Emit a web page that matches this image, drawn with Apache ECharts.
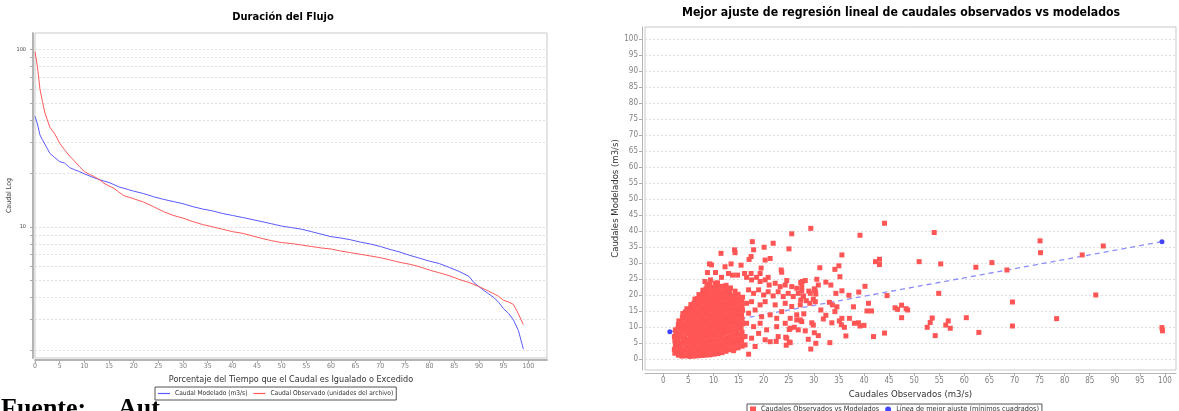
<!DOCTYPE html>
<html>
<head>
<meta charset="utf-8">
<script src="https://cdn.jsdelivr.net/npm/echarts@6/dist/echarts.min.js"></script>
<style>
html,body{margin:0;padding:0;background:#fff;}
#c{width:1179px;height:411px;}
</style>
</head>
<body>
<div id="c"></div>
<script>
// ---------- Left chart: flow duration curve ----------
const durPct = [0,0.5,1,1.5,2,3,4,5,6,7,8,9,10,11,12,13,14,15,16,17,18,19,20,22,24,26,28,30,32,34,36,38,40,42,44,46,48,50,52,54,56,58,60,62,64,66,68,70,72,74,76,78,80,82,84,86,88,89,90,91,92,93,94,95,96,97,98,99];
const durModelado = [42,38,33,31,29.3,26,24.6,23.3,22.9,21.6,21.0,20.5,19.9,19.4,18.9,18.5,18.1,17.8,17.3,16.8,16.5,16.2,15.9,15.4,14.8,14.3,13.9,13.5,13.0,12.6,12.3,11.9,11.6,11.3,11.0,10.7,10.4,10.1,9.9,9.7,9.4,9.1,8.8,8.65,8.45,8.2,8.0,7.75,7.45,7.2,6.9,6.65,6.4,6.2,5.9,5.6,5.25,4.84,4.6,4.38,4.18,4.0,3.75,3.45,3.25,2.98,2.6,2.05];
const durObservado = [97,80,60,51,44,36.5,33.5,29.6,27.2,25.1,23.5,21.9,20.5,19.8,19.2,18.5,17.6,17.0,16.5,15.7,15.0,14.7,14.4,13.8,13.0,12.2,11.6,11.2,10.7,10.3,10.0,9.7,9.4,9.2,8.9,8.6,8.35,8.15,8.05,7.9,7.75,7.6,7.5,7.3,7.15,7.0,6.85,6.7,6.5,6.3,6.15,5.95,5.7,5.5,5.3,5.05,4.85,4.73,4.6,4.47,4.33,4.2,4.05,3.85,3.77,3.65,3.23,2.81];
const durXTicks = [0,5,10,15,20,25,30,35,40,45,50,55,60,65,70,75,80,85,90,95,100];
const durYTicks = [2,3,4,5,6,7,8,9,10,20,30,40,50,60,70,80,90,100];
const durYLabels = [10,100];

// ---------- Right chart: observed vs modelled scatter ----------
const scatterPairs = [
[2.3,1.9],[2.2,3.1],[2.4,4.4],[2.3,5.8],[2.2,7.1],[2.5,8.4],[2.4,9.2],
[3.0,1.3],[2.9,2.6],[3.1,4.0],[2.9,5.3],[3.0,6.7],[3.1,8.0],[2.9,9.5],[3.0,10.8],[3.1,12.0],
[3.7,1.0],[3.8,2.3],[3.6,3.6],[3.7,5.0],[3.9,6.4],[3.6,7.7],[3.8,9.0],[3.7,10.4],[3.6,11.8],[3.8,13.1],[3.9,14.3],
[4.5,1.1],[4.4,2.5],[4.6,3.9],[4.5,5.3],[4.3,6.6],[4.6,8.0],[4.5,9.4],[4.4,10.8],[4.6,12.1],[4.5,13.5],[4.4,14.8],[4.7,15.8],
[5.3,0.9],[5.2,2.2],[5.4,3.6],[5.3,5.0],[5.1,6.3],[5.4,7.7],[5.3,9.1],[5.2,10.5],[5.4,11.9],[5.3,13.2],[5.2,14.6],[5.4,15.9],[5.5,17.1],
[6.1,1.0],[6.0,2.4],[6.2,3.8],[6.1,5.1],[5.9,6.5],[6.2,7.9],[6.1,9.3],[6.0,10.6],[6.2,12.0],[6.1,13.4],[5.9,14.8],[6.2,16.1],[6.1,17.5],[6.3,18.8],
[6.9,1.1],[6.8,2.5],[7.0,3.9],[6.9,5.3],[6.7,6.6],[7.0,8.0],[6.9,9.4],[6.8,10.8],[7.0,12.1],[6.9,13.5],[6.8,14.9],[7.0,16.3],[6.9,17.6],[6.8,19.0],[7.1,20.2],
[7.7,1.2],[7.6,2.6],[7.8,4.0],[7.7,5.4],[7.5,6.8],[7.8,8.1],[7.7,9.5],[7.6,10.9],[7.8,12.3],[7.7,13.6],[7.6,15.0],[7.8,16.4],[7.7,17.8],[7.6,19.1],[7.8,20.5],[7.9,21.6],
[8.5,1.3],[8.4,2.7],[8.6,4.1],[8.5,5.5],[8.3,6.9],[8.6,8.3],[8.5,9.6],[8.4,11.0],[8.6,12.4],[8.5,13.8],[8.4,15.2],[8.6,16.5],[8.5,17.9],[8.4,19.3],[8.6,20.7],[8.5,22.0],[8.7,23.0],
[9.3,1.4],[9.2,2.8],[9.4,4.2],[9.3,5.6],[9.1,7.0],[9.4,8.4],[9.3,9.8],[9.2,11.1],[9.4,12.5],[9.3,13.9],[9.2,15.3],[9.4,16.7],[9.3,18.0],[9.2,19.4],[9.4,20.8],[9.3,22.2],[9.2,23.5],
[10.1,1.6],[10.0,3.0],[10.2,4.4],[10.1,5.8],[9.9,7.2],[10.2,8.6],[10.1,10.0],[10.0,11.3],[10.2,12.7],[10.1,14.1],[10.0,15.5],[10.2,16.9],[10.1,18.2],[10.0,19.6],[10.2,21.0],[10.1,22.4],[10.3,23.8],
[10.9,1.8],[10.8,3.2],[11.0,4.6],[10.9,6.0],[10.7,7.4],[11.0,8.8],[10.9,10.2],[10.8,11.5],[11.0,12.9],[10.9,14.3],[10.8,15.7],[11.0,17.1],[10.9,18.4],[10.8,19.8],[11.0,21.2],[10.9,22.6],[10.8,23.9],
[11.7,2.1],[11.6,3.5],[11.8,4.9],[11.7,6.3],[11.5,7.6],[11.8,9.0],[11.7,10.4],[11.6,11.8],[11.8,13.2],[11.7,14.5],[11.6,15.9],[11.8,17.3],[11.7,18.7],[11.6,20.0],[11.8,21.4],[11.7,22.8],
[12.5,2.5],[12.4,3.9],[12.6,5.3],[12.5,6.7],[12.3,8.1],[12.6,9.4],[12.5,10.8],[12.4,12.2],[12.6,13.6],[12.5,15.0],[12.4,16.3],[12.6,17.7],[12.5,19.1],[12.4,20.5],[12.6,21.8],[12.5,23.1],
[13.3,3.0],[13.2,4.4],[13.4,5.8],[13.3,7.1],[13.1,8.5],[13.4,9.9],[13.3,11.3],[13.2,12.7],[13.4,14.0],[13.3,15.4],[13.2,16.8],[13.4,18.2],[13.3,19.6],[13.2,20.9],[13.4,22.3],
[14.1,3.3],[14.0,4.7],[14.2,6.1],[14.1,7.5],[13.9,8.9],[14.2,10.3],[14.1,11.6],[14.0,13.0],[14.2,14.4],[14.1,15.8],[14.0,17.2],[14.2,18.6],[14.1,19.9],[14.3,21.3],
[14.9,3.6],[14.8,5.0],[15.0,6.4],[14.9,7.8],[14.7,9.2],[15.0,10.6],[14.9,12.0],[14.8,13.4],[15.0,14.7],[14.9,16.1],[14.8,17.5],[15.0,18.9],[14.9,20.3],
[15.7,4.1],[15.6,5.6],[15.8,7.0],[15.7,8.4],[15.5,9.8],[15.8,11.1],[15.7,12.5],[15.6,13.9],[15.8,15.3],[15.7,16.7],[15.6,18.1],[15.8,19.4],
[16.6,25.6],[17.6,24.8],[18.6,25.6],[19.3,24.3],[20.3,24.8],[21.1,23.2],[22.3,23.75],[23.3,22.7],[24.3,23.2],[25.6,22.7],[26.6,22.2],[27.6,22.7],
[17.0,21.7],[18.0,20.6],[19.0,21.7],[20.0,20.1],[20.9,21.1],[21.9,19.8],[22.9,21.1],[23.9,19.6],[24.9,20.6],[25.9,19.6],[26.9,20.6],[27.9,19.6],
[16.6,17.5],[17.6,18.0],[19.3,17.0],[20.3,18.0],[22.3,17.0],[24.3,17.5],[25.6,16.5],[27.3,17.0],
[17.0,14.4],[18.3,15.4],[19.6,13.3],[21.3,13.9],[22.6,12.8],[23.6,14.9],[25.3,12.8],[26.6,13.9],[27.6,11.8],
[16.6,11.25],[18.0,10.2],[19.3,11.25],[20.6,9.2],[22.6,10.2],[24.3,11.25],[25.3,9.7],[26.9,9.2],
[16.3,7.1],[17.6,6.6],[19.0,8.1],[20.3,6.1],[21.3,5.5],[22.9,7.1],[24.6,6.6],[25.3,5.2],
[16.3,4.5],[18.3,4.0],[14.0,2.7],[17.0,1.6],[8.65,2.1],
[22.5,5.6],[24.5,4.4],[25.1,5.4],[24.4,6.9],[25.1,9.3],[26.1,10.0],[26.6,12.3],
[25.6,39.2],[17.75,36.75],[21.9,36.25],[25.05,34.5],[14.2,34.2],[14.3,33.3],[11.5,33.1],[18.0,34.2],[20.1,35.0],[17.5,32.1],[17.1,31.2],[21.3,31.5],[20.3,31.0],
[9.2,29.8],[9.6,29.5],[12.3,28.9],[13.5,29.8],[15.5,29.4],[19.5,28.5],[23.5,27.9],[23.6,27.2],[8.8,27.1],[10.4,27.1],[13.0,26.8],[13.8,26.3],[14.8,26.3],
[16.2,26.8],[17.5,26.8],[19.3,26.8],[20.9,25.6],[24.6,24.6],[27.7,24.3],[8.3,24.3],[9.4,24.8],[11.6,25.6],
[29.4,40.9],[44.1,42.5],[39.2,38.75],[54.0,39.6],[35.6,32.6],[42.3,30.5],[43.1,31.25],[43.1,29.6],[51.0,30.5],[55.3,29.8],[62.3,28.75],[65.5,30.2],
[31.2,28.6],[34.2,28.1],[35.0,29.2],[35.2,25.8],[30.6,25.0],[32.4,24.1],[33.4,23.2],[28.3,24.6],[27.4,24.0],[30.9,23.2],[30.1,22.0],[30.3,21.3],
[29.0,21.3],[27.6,21.4],[29.3,20.6],[27.9,19.8],[30.4,20.4],[35.6,21.4],[34.4,20.6],[40.2,22.8],[38.96,21.0],[37.0,20.0],[44.6,19.9],[54.9,20.6],
[29.9,18.8],[30.3,18.0],[28.5,18.3],[27.4,18.5],[29.2,17.5],[33.1,17.8],[33.7,17.0],[34.6,16.4],[34.2,14.9],[31.4,15.4],[37.9,16.4],[40.9,17.5],
[41.5,15.1],[40.6,15.1],[46.2,16.1],[46.7,15.6],[47.5,16.9],[48.4,15.8],[48.7,15.4],[47.5,13.0],[28.0,14.2],[27.3,12.3],[32.4,13.75],[31.9,12.6],
[29.6,11.4],[29.9,10.7],[33.6,11.4],[35.6,12.8],[35.1,12.0],[37.1,12.8],[35.5,10.8],[36.1,10.0],[38.1,11.25],[38.9,11.4],[39.2,10.4],[40.0,10.6],
[36.4,7.3],[41.9,7.1],[44.1,8.2],[53.6,12.9],[53.2,11.5],[52.6,10.0],[54.2,7.4],[56.3,10.7],[56.8,12.0],[57.2,9.7],[60.4,13.0],[62.9,8.4],
[28.3,8.9],[30.1,8.3],[30.9,7.4],[28.9,6.25],[30.4,5.0],[33.2,5.2],[29.4,3.2],
[75.1,37.0],[75.2,33.3],[83.5,32.6],[87.7,35.4],[68.5,27.9],[69.6,17.9],[86.2,20.1],[69.6,10.4],[78.4,12.7],[99.4,9.9],[99.5,8.9]
];
const fitX = [1.3, 99.4];
const fitY = [8.6, 36.75];
const scatterTicks = [0,5,10,15,20,25,30,35,40,45,50,55,60,65,70,75,80,85,90,95,100];

const FONT = "'DejaVu Sans Condensed','DejaVu Sans',sans-serif";
const chart = echarts.init(document.getElementById('c'), null, {renderer:'canvas'});
const gridLine = {show:true, lineStyle:{color:'#dedede', type:[2,2], width:1}};

chart.setOption({
  animation:false,
  backgroundColor:'#ffffff',
  textStyle:{fontFamily:FONT},
  graphic:[
    {type:'text', x:283, y:17, style:{text:'Duración del Flujo', font:"bold 11px "+FONT, fill:'#000', textAlign:'center', textVerticalAlign:'middle'}},
    {type:'text', x:901, y:13, style:{text:'Mejor ajuste de regresión lineal de caudales observados vs modelados', font:"bold 12.2px "+FONT, fill:'#000', textAlign:'center', textVerticalAlign:'middle'}},
    {type:'text', x:1, y:396, style:{text:'Fuente:', font:"bold 26px 'Liberation Serif'", fill:'#000', textAlign:'left', textVerticalAlign:'top'}},
    {type:'text', x:118, y:396, style:{text:'Aut', font:"bold 26px 'Liberation Serif'", fill:'#000', textAlign:'left', textVerticalAlign:'top'}}
  ],
  grid:[
    {left:35, top:33, width:512, height:325, show:true, borderColor:'#c8c8c8', borderWidth:1, backgroundColor:'#fff'},
    {left:645, top:27, width:531, height:343, show:true, borderColor:'#c8c8c8', borderWidth:1, backgroundColor:'#fff'}
  ],
  xAxis:[
    {type:'value', gridIndex:0, min:0, max:103.8, offset:2,
     axisLine:{show:true, onZero:false, lineStyle:{color:'#b4b4b4', width:2}},
     axisTick:{show:true, customValues:durXTicks, length:3, lineStyle:{color:'#aaa'}},
     axisLabel:{customValues:durXTicks, fontSize:7, color:'#808080', margin:3, fontFamily:FONT},
     splitLine:{show:false},
     name:'Porcentaje del Tiempo que el Caudal es Igualado o Excedido', nameLocation:'middle', nameGap:14,
     nameTextStyle:{fontSize:9, color:'#333', fontFamily:FONT}},
    {type:'value', gridIndex:1, min:-3.65, max:102.2, offset:3,
     axisLine:{show:true, onZero:false, lineStyle:{color:'#b4b4b4', width:1}},
     axisTick:{show:true, customValues:scatterTicks, length:3, lineStyle:{color:'#aaa'}},
     axisLabel:{customValues:scatterTicks, fontSize:8, color:'#808080', margin:4, fontFamily:FONT},
     splitLine:{show:false},
     name:'Caudales Observados (m3/s)', nameLocation:'middle', nameGap:15,
     nameTextStyle:{fontSize:9.5, color:'#333', fontFamily:FONT}}
  ],
  yAxis:[
    {type:'log', logBase:10, gridIndex:0, min:1.82, max:124, offset:2,
     axisLine:{show:true, onZero:false, lineStyle:{color:'#b4b4b4', width:2}},
     axisTick:{show:true, customValues:durYTicks, length:3, lineStyle:{color:'#aaa'}},
     axisLabel:{customValues:durYLabels, fontSize:5.5, color:'#444', margin:7, fontFamily:FONT},
     splitLine:gridLine,
     name:'Caudal Log', nameLocation:'middle', nameGap:18,
     nameTextStyle:{fontSize:7, color:'#444', fontFamily:FONT}},
    {type:'value', gridIndex:1, min:-3.34, max:103.8, offset:3,
     axisLine:{show:true, onZero:false, lineStyle:{color:'#b4b4b4', width:1}},
     axisTick:{show:true, customValues:scatterTicks, length:3, lineStyle:{color:'#aaa'}},
     axisLabel:{customValues:scatterTicks, fontSize:8, color:'#808080', margin:4, fontFamily:FONT},
     splitLine:gridLine,
     name:'Caudales Modelados (m3/s)', nameLocation:'middle', nameGap:20,
     nameTextStyle:{fontSize:9.5, color:'#333', fontFamily:FONT}}
  ],
  legend:[
    {data:[{name:'Caudal Modelado (m3/s)', icon:'rect'},{name:'Caudal Observado (unidades del archivo)', icon:'rect'}], left:155, top:387,
     orient:'horizontal', selectedMode:false, borderColor:'#555', borderWidth:1, borderRadius:0, padding:[3,3],
     itemGap:6, itemWidth:12, itemHeight:1.2, textStyle:{fontSize:6.6, color:'#333', fontFamily:FONT}},
    {data:[{name:'Caudales Observados vs Modelados', icon:'rect'},{name:'Línea de mejor ajuste (mínimos cuadrados)', icon:'circle'}],
     left:747, top:404, orient:'horizontal', selectedMode:false, borderColor:'#555', borderWidth:1, borderRadius:0, padding:[2,3],
     itemGap:6, itemWidth:6, itemHeight:6, textStyle:{fontSize:7.3, color:'#333', fontFamily:FONT}}
  ],
  series:[
    {name:'Caudal Modelado (m3/s)', type:'line', xAxisIndex:0, yAxisIndex:0,
     data:durPct.map((x,i)=>[x,durModelado[i]]), symbol:'none', smooth:false,
     lineStyle:{color:'#5a5aff', width:1}, itemStyle:{color:'#5a5aff'}},
    {name:'Caudal Observado (unidades del archivo)', type:'line', xAxisIndex:0, yAxisIndex:0,
     data:durPct.map((x,i)=>[x,durObservado[i]]), symbol:'none', smooth:false,
     lineStyle:{color:'#ff5a5a', width:1}, itemStyle:{color:'#ff5a5a'}},
    {name:'Línea de mejor ajuste (mínimos cuadrados)', type:'line', xAxisIndex:1, yAxisIndex:1, z:2,
     data:fitX.map((x,i)=>[x,fitY[i]]), symbol:'circle', symbolSize:5, showAllSymbol:true,
     lineStyle:{color:'#8c8cff', width:1.3, type:[5,4]}, itemStyle:{color:'#4444ff'}},
    {name:'Caudales Observados vs Modelados', type:'scatter', xAxisIndex:1, yAxisIndex:1, z:3,
     data:scatterPairs, symbol:'rect', symbolSize:5, itemStyle:{color:'#ff5555', opacity:1}}
  ]
});
</script>
</body>
</html>
